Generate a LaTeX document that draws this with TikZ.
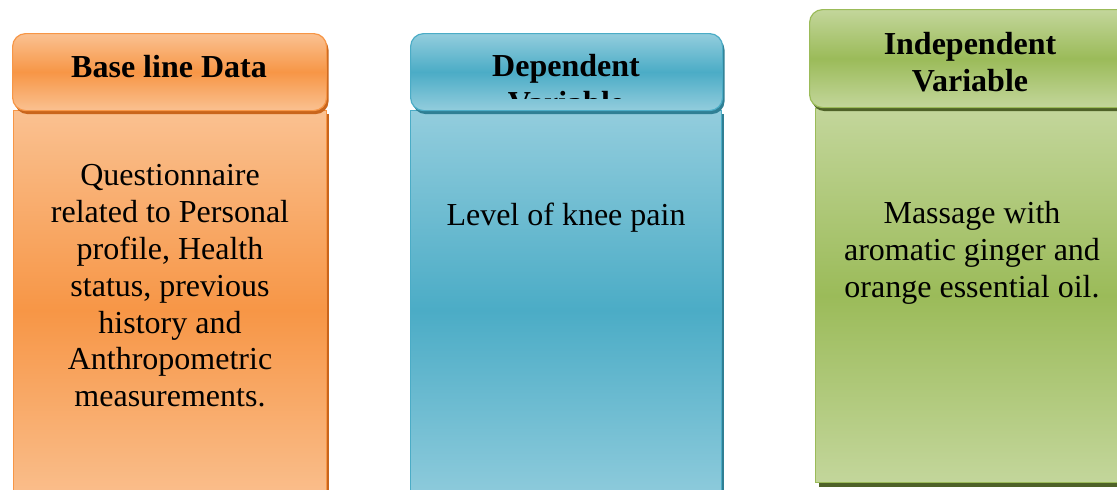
\documentclass[tikz,border=0pt]{standalone}
\usepackage{fontspec}
\setmainfont{Liberation Serif}
\usetikzlibrary{shadows}
\definecolor{orL}{HTML}{FAC191}
\definecolor{orM}{HTML}{F79646}
\definecolor{orD}{HTML}{C9651C}
\definecolor{blL}{HTML}{93CDDD}
\definecolor{blM}{HTML}{4BACC6}
\definecolor{blD}{HTML}{2F7F94}
\definecolor{grL}{HTML}{C3D69B}
\definecolor{grM}{HTML}{9BBB59}
\definecolor{grD}{HTML}{4F6228}
\begin{document}
\begin{tikzpicture}[x=1pt,y=-1pt,
  hdrbox/.style={rounded corners=13pt, line width=1.2pt, inner sep=0pt},
  bodybox/.style={line width=1.2pt, inner sep=0pt},
  shade3/.style n args={2}{top color=#1, bottom color=#1, middle color=#2},
  shad/.style={drop shadow={shadow xshift=2pt, shadow yshift=-3.5pt, fill=#1, opacity=1}},
  hdrtext/.style={font=\fontsize{32}{36.8}\selectfont\bfseries, align=center, inner sep=0pt},
  bodytext/.style={font=\fontsize{32}{36.8}\selectfont, align=center, inner sep=0pt}]
\useasboundingbox (0,0) rectangle (1117,490);
\clip (0,0) rectangle (1117,490);
% orange column
\node[bodybox, shad=orD, draw=orM, shade3={orL}{orM}, minimum width=313, minimum height=400, anchor=north west] (b1) at (13,110) {};
\node[hdrbox, shad=orD, draw=orM, shade3={orL}{orM}, minimum width=314, minimum height=77, anchor=north west] (h1) at (12,33) {};
\node[hdrtext] (t1) at (169,67) {Base line Data};
\node[bodytext] (x1) at (170,286) {Questionnaire\\related to Personal\\profile, Health\\status, previous\\history and\\Anthropometric\\measurements.};
% blue column
\node[bodybox, shad=blD, draw=blM, shade3={blL}{blM}, minimum width=311, minimum height=400, anchor=north west] (b2) at (410,110) {};
\node[hdrbox, shad=blD, draw=blM, shade3={blL}{blM}, minimum width=312, minimum height=77, anchor=north west] (h2) at (410,33) {};
\begin{scope}
\clip (410,33) rectangle (722,98);
\node[hdrtext] (t2) at (566,84.5) {Dependent\\Variable};
\end{scope}
\node[bodytext] (x2) at (566,217.5) {Level of knee pain};
% green column
\node[bodybox, drop shadow={shadow xshift=3pt, shadow yshift=-4pt, fill=grD, opacity=1}, draw=grM, shade3={grL}{grM}, minimum width=330, minimum height=374, anchor=north west] (b3) at (815,108) {};
\node[hdrbox, shad=grD, draw=grM, shade3={grL}{grM}, minimum width=330, minimum height=98, anchor=north west] (h3) at (809,9) {};
\node[hdrtext] (t3) at (970,62.5) {Independent\\Variable};
\node[bodytext] (x3) at (972,253) {Massage with\\aromatic ginger and\\orange essential oil.};
\end{tikzpicture}
\end{document}
